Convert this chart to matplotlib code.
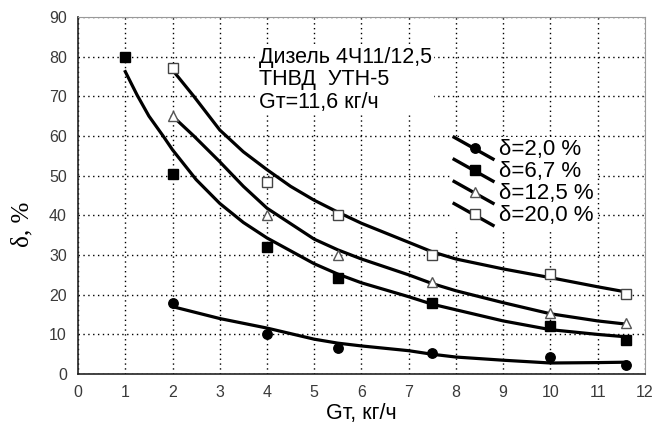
import matplotlib
matplotlib.use("Agg")
import matplotlib.pyplot as plt
from matplotlib.legend_handler import HandlerBase
from matplotlib.lines import Line2D

# measured points
x_d2 = [2, 4, 5.5, 7.5, 10, 11.6]
y_d2 = [18, 10, 6.5, 5.2, 4.3, 2.2]
x_d67 = [1, 2, 4, 5.5, 7.5, 10, 11.6]
y_d67 = [80, 50.5, 32, 24.2, 18, 12, 8.7]
x_d125 = [2, 4, 5.5, 7.5, 10, 11.6]
y_d125 = [65, 40, 30, 23.2, 15.3, 12.9]
x_d20 = [2, 4, 5.5, 7.5, 10, 11.6]
y_d20 = [77, 48.5, 40, 30, 25.3, 20.2]

# fitted curves
cx_d2 = [2, 3, 4, 5, 5.5, 6, 7, 7.5, 8, 9, 10, 11, 11.6]
cy_d2 = [17, 14, 11.6, 8.8, 7.8, 7.1, 5.9, 5.0, 4.3, 3.5, 2.8, 2.9, 3.0]
cx_d67 = [1, 1.25, 1.5, 1.8, 2, 2.5, 3, 3.5, 4, 5, 5.5, 6, 7, 7.5, 8, 9, 10, 11, 11.6]
cy_d67 = [76.2, 70.3, 65, 60, 56.5, 49, 43, 38.2, 34.3, 27.8, 25.2, 23, 19.5, 17.6, 16.2, 13.4, 11.2, 10.0, 9.4]
cx_d125 = [2, 2.45, 3, 3.5, 4, 5, 5.5, 6, 7, 7.5, 8, 9, 10, 11, 11.6]
cy_d125 = [65, 60, 53.5, 47.3, 41.8, 34, 31.3, 29, 25, 22.8, 21, 18, 15.2, 13.4, 12.6]
cx_d20 = [2, 2.45, 3, 3.5, 4, 4.5, 5, 5.5, 6, 7, 7.5, 8, 9, 10, 11, 11.6]
cy_d20 = [76.6, 70, 61.5, 56, 51.5, 47.3, 43.8, 40.8, 38, 33.2, 30.8, 29, 26.5, 24.3, 22, 20.7]

labels = ["δ=2,0 %", "δ=6,7 %", "δ=12,5 %", "δ=20,0 %"]
xticks = list(range(0, 13))
yticks = list(range(0, 91, 10))

plt.rcParams['font.family'] = ['Liberation Sans', 'DejaVu Sans']

fig = plt.figure(figsize=(6.56, 4.32), dpi=100)
ax = fig.add_axes([0.119, 0.134, 0.864, 0.827])

lw = 2.3
ax.plot(cx_d2, cy_d2, color='black', lw=lw, zorder=3)
ax.plot(cx_d67, cy_d67, color='black', lw=lw, zorder=3)
ax.plot(cx_d125, cy_d125, color='black', lw=lw, zorder=3)
ax.plot(cx_d20, cy_d20, color='black', lw=lw, zorder=3)

m1, = ax.plot(x_d2, y_d2, 'o', ms=6.8, mfc='black', mec='black', zorder=4)
m2, = ax.plot(x_d67, y_d67, 's', ms=6.8, mfc='black', mec='black', zorder=4)
m3, = ax.plot(x_d125, y_d125, '^', ms=7.2, mfc='white', mec='#555555', mew=1.0, zorder=4)
m4, = ax.plot(x_d20, y_d20, 's', ms=7.5, mfc='white', mec='#444444', mew=1.0, zorder=4)

ax.set_xlim(0, 12)
ax.set_ylim(0, 90)
ax.set_xticks(xticks)
ax.set_yticks(yticks)
ax.tick_params(axis='both', length=0, labelsize=11.5, labelcolor='#3a3a3a', pad=8)
ax.grid(True, color='black', linestyle=(0, (1, 2.5)), lw=1.0)
for s in ax.spines.values():
    s.set_color('#222222')
    s.set_linewidth(1.2)
for s in ['top', 'right']:
    ax.spines[s].set_color('#999999')
    ax.spines[s].set_linewidth(0.8)

ax.set_xlabel("Gт, кг/ч", fontsize=15.5, labelpad=2)
ax.set_ylabel("δ, %", fontsize=18, family=['Liberation Serif', 'DejaVu Serif'])
ax.yaxis.set_label_coords(-0.079, 0.42)

ax.text(0.32, 0.915, "Дизель 4Ч11/12,5\nТНВД  УТН-5\nGт=11,6 кг/ч", transform=ax.transAxes,
        fontsize=15.5, va='top', ha='left', linespacing=1.08,
        bbox=dict(facecolor='white', edgecolor='none', pad=1), zorder=2)


class DiagHandler(HandlerBase):
    def create_artists(self, legend, orig_handle, xdescent, ydescent, width, height, fontsize, trans):
        x0 = -xdescent
        x1 = -xdescent + width
        y0 = -ydescent + height * 1.15
        y1 = -ydescent - height * 0.25
        ln = Line2D([x0, x1], [y0, y1], color='black', lw=2.4, transform=trans)
        mk = Line2D([(x0 + x1) / 2 + 1], [(y0 + y1) / 2], marker=orig_handle.get_marker(),
                    mfc=orig_handle.get_markerfacecolor(), mec=orig_handle.get_markeredgecolor(),
                    ms=orig_handle.get_markersize(), mew=orig_handle.get_markeredgewidth(),
                    linestyle='none', transform=trans)
        return [ln, mk]


leg = ax.legend([m1, m2, m3, m4], labels, handler_map={Line2D: DiagHandler()},
                loc='upper left', bbox_to_anchor=(0.64, 0.695), fontsize=16,
                frameon=True, facecolor='white', edgecolor='none', framealpha=1,
                handlelength=1.75, handletextpad=0.28, labelspacing=0.05, borderpad=0.1)
leg.set_zorder(2)

fig.savefig("out.png", dpi=100)
